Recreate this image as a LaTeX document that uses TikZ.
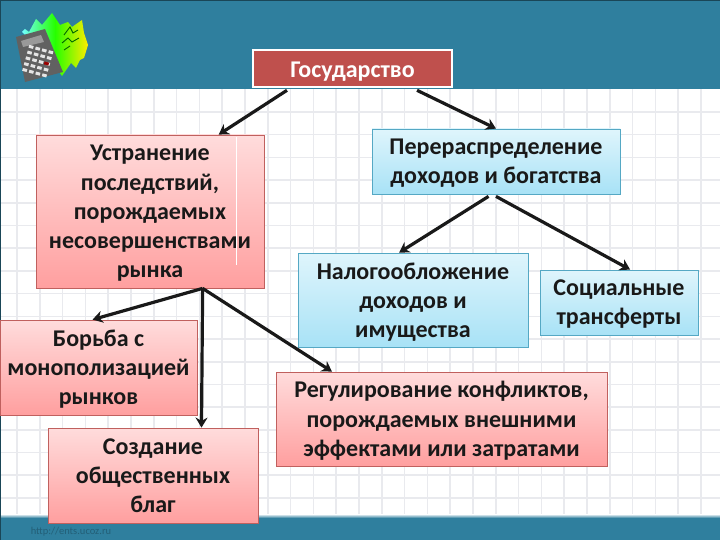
\documentclass[tikz,border=0pt]{standalone}
\usepackage{fontspec}
\setmainfont{Carlito}
\usetikzlibrary{calc,arrows.meta}
\definecolor{bandc}{HTML}{2F7F9E}
\definecolor{gridc}{HTML}{E9EAEE}
\definecolor{govc}{HTML}{BF504D}
\definecolor{redtop}{HTML}{FFDCDC}
\definecolor{redbot}{HTML}{FF9F9F}
\definecolor{redline}{HTML}{C0605E}
\definecolor{bluetop}{HTML}{DFF5FC}
\definecolor{bluebot}{HTML}{A8E2F6}
\definecolor{blueline}{HTML}{55A8C4}
\tikzset{
 pbox/.style={rectangle,draw=#1,line width=0.8pt,inner sep=0pt,align=center,text=black!90,font=\fontsize{24}{29.2}\selectfont\bfseries,text depth=0pt},
 redbox/.style={pbox=redline,top color=redtop,bottom color=redbot},
 bluebox/.style={pbox=blueline,top color=bluetop,bottom color=bluebot},
 link/.style={draw=black!90,line width=3.2pt,-{Stealth[length=10pt,width=12pt]}}
}
\begin{document}
\begin{tikzpicture}[x=1pt,y=-1pt]
\useasboundingbox (0,0) rectangle (720,540);
\fill[white] (0,0) rectangle (720,540);
\foreach \x in {17,39.8,...,720} \draw[gridc,line width=1.6pt] (\x,89)--(\x,515);
\foreach \y in {112,134.7,...,515} \draw[gridc,line width=1.6pt] (0,\y)--(720,\y);
\fill[bandc] (0,0) rectangle (720,89);
\fill[bandc] (0,518) rectangle (720,540);
\shade[top color=white,bottom color=bandc] (0,514) rectangle (720,518);
\draw[bandc!55!black,line width=1.2pt] (0,0.5)--(720,0.5) (0.5,0)--(0.5,540);
% icon
\shade[left color=cyan!55!white,right color=yellow!85!orange,middle color=green!85!yellow]
 (22,32)--(25,29)--(29,32)--(36,19)--(42,25)--(52,13)--(60,25)--(68,22)--(72,27)--(82,20)--(84,33)--(88,45)--(84,58)--(80,60)--(76,68)--(71,63)--(62,76)--(50,60)--cycle;
\draw[green!40!black,line width=0.9pt] (64,35)--(70,27)--(73,33)--(78,30) (62,43)--(68,38)--(72,42)--(79,38) (64,50)--(70,46);
\fill[black!62] (16,37)--(45,29)--(63,72)--(25,82)--cycle;
\fill[black!40] (21,41)--(41,35)--(44,42)--(23,47)--cycle;
\begin{scope}[shift={(40,55)},rotate=-15.4]
\foreach \i in {0,...,3} \foreach \j in {0,...,4}
 \fill[black!10] (-13+\i*6.8,-7+\j*6) rectangle +(4.6,3);
\fill[red!60!black] (6.2,5) rectangle +(4.6,3);
\end{scope}
% nodes
\node[rectangle,fill=govc,draw=white,line width=2.6pt,minimum width=199pt,minimum height=37pt,inner sep=0pt,text=white,text height=22pt,text depth=3pt,font=\fontsize{24}{28}\selectfont\bfseries] (gov) at (352.5,68.5) {Государство};
\node[redbox,minimum width=228pt,minimum height=153pt] (ust) at (150,211.5) {Устранение\\последствий,\\порождаемых\\несовершенствами\\рынка};
\draw[white,line width=0.8pt] (236.5,137)--(236.5,265);
\node[bluebox,minimum width=248pt,minimum height=65pt] (per) at (496,161.5) {Перераспределение\\доходов и богатства};
\node[bluebox,minimum width=230pt,minimum height=94pt] (nal) at (413,300) {Налогообложение\\доходов и\\имущества};
\node[bluebox,minimum width=158pt,minimum height=65pt] (soc) at (619,302.5) {Социальные\\трансферты};
\node[redbox,minimum width=197pt,minimum height=95pt] (bor) at (98.5,367.5) {Борьба с\\монополизацией\\рынков};
\node[redbox,minimum width=210pt,minimum height=95pt] (soz) at (153,475.5) {Создание\\общественных\\благ};
\node[redbox,minimum width=331pt,minimum height=94pt] (reg) at (441.5,419) {Регулирование конфликтов,\\порождаемых внешними\\эффектами или затратами};
% connectors
\coordinate (us) at ($(ust.south west)!0.73!(ust.south east)$);
\draw[link] ($(gov.south west)!0.175!(gov.south east)+(0,2)$) -- ($(ust.north west)!0.80!(ust.north east)$);
\draw[link] ($(gov.south west)!0.82!(gov.south east)+(0,2)$) -- ($(per.north west)!0.5!(per.north east)$);
\draw[link] ($(per.south west)!0.47!(per.south east)+(0,2)$) -- ($(nal.north west)!0.44!(nal.north east)$);
\draw[link] ($(per.south west)!0.50!(per.south east)+(0,2)$) -- ($(soc.north west)!0.57!(soc.north east)$);
\draw[link] (us) -- ($(bor.north west)!0.47!(bor.north east)$);
\draw[link] (us) -- ($(soz.north west)!0.73!(soz.north east)$);
\draw[link] (us) -- ($(reg.north west)!0.17!(reg.north east)$);
\node[text=bandc!75!black,font=\fontsize{10.5}{12}\selectfont] (url) at (71,532) {http://ents.ucoz.ru};
\end{tikzpicture}
\end{document}
